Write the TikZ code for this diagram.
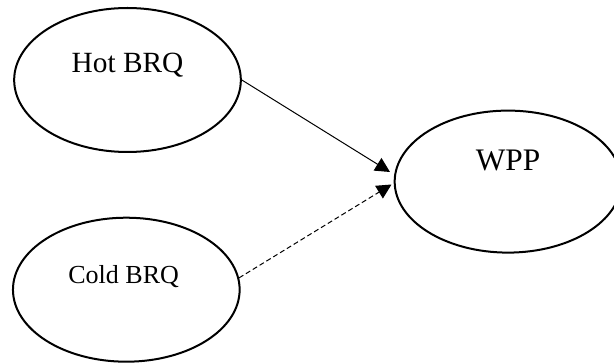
\documentclass[tikz,border=0pt]{standalone}
\usepackage{fontspec}
\setmainfont{Liberation Serif}
\usepackage{tikz}
\usetikzlibrary{positioning}
\usetikzlibrary{arrows.meta}
\usetikzlibrary{shapes.geometric}
\tikzset{tips=proper}
\tikzset{%
    factor/.style={ellipse, draw, line width=1.5pt, minimum width=170pt, minimum height=108pt, inner sep=0pt},
    link/.style={draw, line width=0.75pt, -{Triangle[length=11pt, width=11pt]}},
    weaklink/.style={link, dash pattern=on 3.75pt off 2.25pt}
}

\begin{document}
\begin{tikzpicture}[x=0.75pt, y=-0.75pt]
            \useasboundingbox (0,0) rectangle (614,363);
            \node[factor] (hot) at (127.5,80) {\fontsize{22pt}{24pt}\selectfont\raisebox{11pt}[\height][\depth]{Hot BRQ}};
            \node[factor, minimum height=108pt] (cold) at (126.3,289.7) {\fontsize{19.5pt}{22pt}\selectfont\hspace{-4pt}\raisebox{9.6pt}[\height][\depth]{Cold BRQ}};
            \node[factor, minimum height=106.5pt] (wpp) at (508,181.6) {\fontsize{23.5pt}{26pt}\selectfont\raisebox{15.5pt}[\height][\depth]{WPP}};
            \coordinate (hotin) at (390,172);
            \coordinate (coldin) at (391.5,184.5);
            \draw[link] (hot.east) -- (hotin);
            \draw[weaklink] (cold.6) -- (coldin);
        \end{tikzpicture}
\end{document}
